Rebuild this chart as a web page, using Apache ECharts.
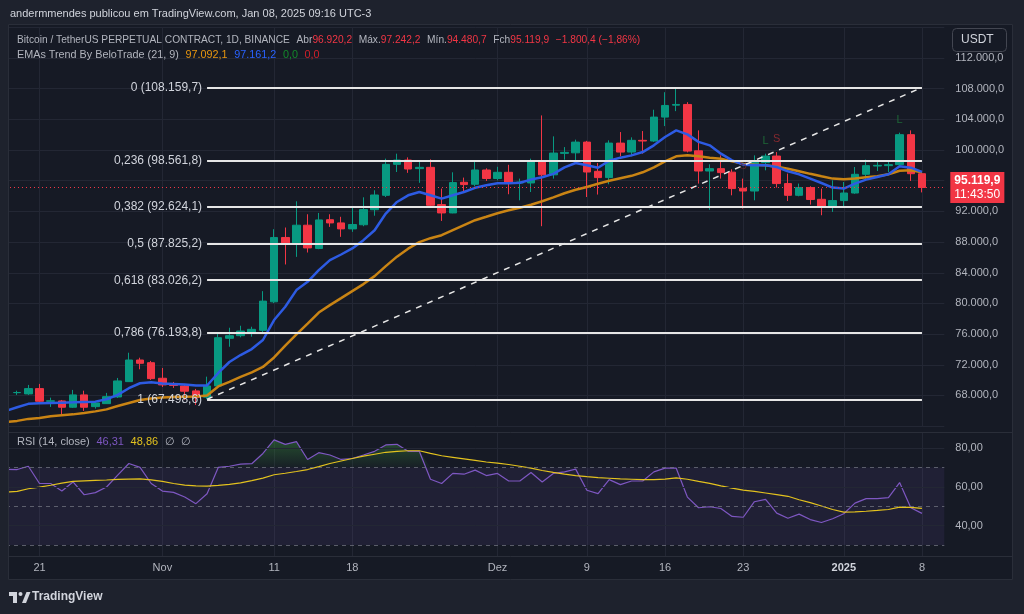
<!DOCTYPE html>
<html lang="pt">
<head>
<meta charset="UTF-8">
<title>BTCUSDT.P 1D - Fibonacci / EMAs / RSI</title>
<script src="https://cdn.jsdelivr.net/npm/echarts@6/dist/echarts.min.js"></script>
<style>html,body{margin:0;background:#1e222d}</style>
</head>
<body>
<div id="container" style="width:1024px;height:614px"></div>
<script>
// dias: 18/out/2024 .. 10/jan/2025 (os dois ultimos ficam vazios, espaco a direita)
var dates = [];
for (var d = new Date(Date.UTC(2024, 9, 18)); dates.length < 85; d.setUTCDate(d.getUTCDate() + 1)) {
    dates.push(d.toISOString().slice(0, 10));
}

// [abertura, fechamento, minima, maxima]
var candles = [
    '-',
    [68360, 68380, 68070, 68620], [68200, 68890, 68070, 69370], [68890, 67240, 66890, 69500],
    [67240, 67300, 66500, 67710], [67280, 66460, 65330, 67410], [66460, 68070, 66370, 68720],
    [68070, 66460, 65980, 68620], [66540, 67020, 66280, 67280], [66930, 67840, 66890, 68330],
    [67800, 69890, 67670, 70280], [69800, 72620, 69760, 73570], [72620, 72190, 71410, 72920],
    [72270, 70190, 70020, 72500],
    // nov
    [70240, 69370, 69100, 71580], [69370, 69300, 68980, 69760], [69240, 68550, 67410, 69500],
    [68590, 67740, 66760, 68850], [67770, 69240, 67498, 70450], [69240, 75530, 69100, 76180],
    [75450, 75790, 74350, 76830], [75790, 76400, 75580, 77090], [76270, 76620, 75660, 76960],
    [76490, 80300, 76270, 81600], [80210, 88600, 80040, 89680], [88600, 87820, 85080, 89900],
    [87820, 90200, 86070, 93320], [90200, 87240, 86640, 91630], [87170, 90890, 87070, 91800],
    [90920, 90500, 89980, 91630], [90500, 89720, 88680, 91300], [89720, 90290, 89330, 92540],
    [90260, 92240, 90070, 93840], [92220, 94140, 91440, 94760], [94100, 98140, 93880, 98880],
    [98140, 98700, 97140, 99530], [98700, 97530, 97030, 99050], [97580, 97750, 95730, 98570],
    [97750, 92800, 92580, 98790], [92890, 91800, 90760, 94980], [91800, 95760, 91760, 97100],
    [95800, 95500, 94630, 96410], [95540, 97400, 95280, 98660], [97400, 96290, 95970, 97620],
    // dez
    [96290, 97100, 96060, 97820], [97100, 95710, 94240, 98080], [95710, 95840, 93450, 96280],
    [95710, 98530, 94530, 98880], [98530, 96770, 90070, 104520], [96770, 99610, 96280, 101790],
    [99570, 99700, 98750, 100390], [99640, 101040, 98530, 101360], [101040, 97140, 93880, 101200],
    [97230, 96410, 94200, 98310], [96410, 100910, 95540, 101270], [100910, 99740, 99180, 102350],
    [99740, 101270, 99180, 101660], [101270, 101180, 99530, 102480], [101180, 104300, 101070, 105260],
    [104300, 105820, 103130, 107550], [105860, 105950, 105080, 108160], [105950, 99870, 99700, 106250],
    [99900, 97270, 95630, 102570], [97270, 97580, 92220, 98140], [97580, 97060, 96280, 99310],
    [97120, 94980, 94100, 97490], [95020, 94660, 92370, 96280], [94660, 98440, 93450, 99310],
    [98360, 99220, 97360, 99530], [99220, 95630, 95110, 99740], [95630, 94100, 93360, 96930],
    [94100, 95110, 93970, 95630], [95110, 93550, 92890, 95280], [93580, 92580, 91500, 94980],
    [92580, 93410, 91930, 96060],
    // jan
    [93410, 94400, 92670, 95840], [94400, 96840, 94300, 97790], [96840, 97970, 96060, 98750],
    [97920, 98010, 97270, 98570], [97970, 98100, 97140, 98660], [98100, 102010, 98010, 102270],
    [102010, 96920.3, 95970, 102570], [96920.2, 95119.9, 94480.7, 97242.2],
    '-', '-'
];

// EMAs Trend By BeloTrade: EMA 9 (azul) e EMA 21 (laranja)
var ema9 = [65980, 66460, 66900, 66980, 67020, 67060, 67100, 67150, 67190, 67500, 68070, 68940, 69590, 69720,
    69560, 69500, 69430, 69300, 69300, 70930, 72360, 73270, 74050, 75230,
    77830, 79560, 81740, 82820, 84340, 85640, 86380, 87170, 88250, 89550,
    91720, 93230, 94100, 94530, 94100, 93670, 94100, 94530, 95080, 95410,
    95670, 95670, 95730, 96150, 96450, 96900, 97750, 98310, 98010, 97690,
    98600, 99010, 99310, 99740, 100620, 101700, 102570, 102050, 101070, 100620,
    99530, 98660, 98100, 98010, 98010, 97790, 97230, 96840, 96280, 95710, 95110,
    94980, 95630, 96150, 96490, 96840, 97880, 97710, 97161.2, '-', '-'];
var ema21 = [64550, 64680, 64940, 65070, 65270, 65400, 65530, 65720, 65920, 66180, 66630, 67020, 67410, 67610,
    67740, 67800, 67840, 67870, 68000, 69170, 69760, 70410, 71000, 71710,
    72950, 74500, 75950, 77370, 78810, 79780, 80690, 81610, 82520, 83560,
    84860, 86100, 87140, 87990, 88510, 88900, 89550, 90200, 90850, 91300,
    91760, 92150, 92480, 92870, 93320, 93840, 94370, 94820, 95190, 95600,
    95990, 96320, 96640, 97100, 97750, 98530, 99180, 99310, 99180, 98990,
    98860, 98530, 98200, 98080, 98010, 97820, 97560, 97230, 96900, 96580, 96280,
    96190, 96280, 96450, 96580, 96840, 97300, 97360, 97092.1, '-', '-'];

// RSI (14, close) e sua media
var rsi = [69.0, 68.9, 70.6, 61.7, 61.7, 57.8, 62.5, 55.9, 57.0, 59.9, 66.0, 72.0, 70.0, 61.7,
    57.8, 57.1, 54.7, 51.3, 56.4, 70.0, 70.6, 71.7, 71.9, 77.2,
    84.2, 81.9, 83.3, 74.1, 77.6, 76.4, 74.1, 74.6, 76.4, 78.3,
    81.6, 81.9, 78.3, 78.3, 63.9, 61.7, 66.9, 66.5, 68.6, 65.8,
    66.9, 63.0, 63.0, 67.4, 62.5, 66.9, 67.7, 69.1, 58.2, 56.5,
    63.7, 61.1, 63.0, 63.0, 67.7, 69.6, 69.6, 54.7, 49.2, 49.7,
    48.8, 44.7, 44.3, 52.3, 53.5, 46.4, 43.8, 45.9, 43.1, 41.6, 43.5,
    46.1, 51.6, 53.9, 53.9, 54.4, 62.2, 49.2, 46.31, '-', '-'];
var rsiMa = [57.2, 57.6, 59.0, 59.8, 60.8, 61.9, 62.8, 63.1, 63.3, 63.5, 63.8, 64.0, 64.1, 63.6,
    62.8, 61.7, 60.9, 60.5, 60.3, 60.7, 61.2, 62.0, 63.2, 64.5,
    66.2, 67.0, 67.9, 68.9, 70.4, 72.0, 73.3, 74.6, 75.8, 76.8,
    77.8, 78.3, 78.6, 78.6, 77.2, 76.0, 75.2, 74.4, 73.6, 72.8,
    72.2, 71.5, 70.6, 69.6, 68.4, 67.4, 66.5, 65.8, 65.2, 64.7,
    64.4, 64.1, 63.9, 63.7, 63.7, 64.0, 64.6, 63.9, 62.8, 61.8,
    60.5, 59.3, 58.3, 57.6, 56.8, 56.0, 55.1, 53.3, 51.8, 50.1, 48.3,
    46.9, 47.1, 47.4, 47.8, 48.3, 49.5, 49.4, 48.86, '-', '-'];

// retracao de Fibonacci
var fibLevels = ['0', '0,236', '0,382', '0,5', '0,618', '0,786', '1'];
var fibPrices = [108159.7, 98561.8, 92624.1, 87825.2, 83026.2, 76193.8, 67498.6];
var fibFrom = '2024-11-05', fibTo = '2025-01-08';

// sinais L / S do indicador
var signalDates = ['2024-12-23', '2024-12-25', '2024-12-26', '2025-01-06'];
var signalPrices = [97900, 101130, 101400, 103870];
var signalText = ['S', 'L', 'S', 'L'];

// eixo do tempo
var tickDates = ['2024-10-21', '2024-11-01', '2024-11-11', '2024-11-18', '2024-12-01',
    '2024-12-09', '2024-12-16', '2024-12-23', '2025-01-01', '2025-01-08'];
var tickText = ['21', 'Nov', '11', '18', 'Dez', '9', '16', '23', '2025', '8'];

var FONT = "'Liberation Sans', Arial, sans-serif";
var GRID = '#232734';

function fmt(v, dec) {
    var s = Math.abs(v).toFixed(dec).split('.');
    s[0] = s[0].replace(/\B(?=(\d{3})+(?!\d))/g, '.');
    return (v < 0 ? '−' : '') + s[0] + (dec ? ',' + s[1] : '');
}
function isTick(i) { return tickDates.indexOf(dates[i]) >= 0; }

var last = candles[82], prev = candles[81];
var change = last[1] - prev[1];
var lastPrice = last[1];

var myChart = echarts.init(document.getElementById('container'));

var fibLines = fibPrices.map(function (p, i) {
    return [
        { coord: [fibFrom, p], label: { formatter: fibLevels[i] + ' (' + fmt(p, 1) + ')' } },
        { coord: [fibTo, p] }
    ];
});
// linha tracejada da ancora 1 ate a ancora 0
fibLines.push([
    { coord: [fibFrom, fibPrices[6]], lineStyle: { type: [6, 6], width: 1.5 }, label: { show: false } },
    { coord: [fibTo, fibPrices[0]] }
]);
// preco atual
fibLines.push({
    yAxis: lastPrice,
    lineStyle: { color: '#f23645', type: [1, 3], width: 1 },
    label: {
        position: 'end', distance: 6, padding: [2, 4, 1, 4],
        backgroundColor: '#f23645', color: '#fff',
        formatter: '{p|' + fmt(lastPrice, 1) + '}\n{t|11:43:50}',
        rich: {
            p: { color: '#fff', fontWeight: 'bold', fontSize: 12, lineHeight: 14, fontFamily: FONT },
            t: { color: '#fff', fontSize: 12, lineHeight: 14, fontFamily: FONT }
        }
    }
});

var rsiOver = rsi.map(function (v) { return v === '-' ? '-' : Math.max(v, 70); });

var axisLbl = { color: '#b2b5be', fontSize: 11, fontFamily: FONT };

myChart.setOption({
    backgroundColor: '#161a25',
    animation: false,
    textStyle: { fontFamily: FONT },
    grid: [
        { left: 6, right: 79.7, top: 27.4, height: 398.7 },
        { left: 6, right: 79.7, top: 432.5, height: 124.1 }
    ],
    xAxis: [
        {
            type: 'category', gridIndex: 0, data: dates, boundaryGap: false,
            axisLine: { show: false }, axisTick: { show: false }, axisLabel: { show: false },
            splitLine: { show: true, interval: isTick, lineStyle: { color: GRID } }
        },
        {
            type: 'category', gridIndex: 1, data: dates, boundaryGap: false,
            axisLine: { show: false }, axisTick: { show: false },
            axisLabel: Object.assign({}, axisLbl, {
                interval: isTick, margin: 6,
                formatter: function (v) {
                    var t = tickText[tickDates.indexOf(v)];
                    return t === '2025' ? '{b|' + t + '}' : t;
                },
                rich: { b: { fontWeight: 'bold', color: '#d1d4dc', fontSize: 11, fontFamily: FONT } }
            }),
            splitLine: { show: true, interval: isTick, lineStyle: { color: GRID } }
        }
    ],
    yAxis: [
        {
            type: 'value', gridIndex: 0, position: 'right', min: 64000, max: 116000, interval: 4000,
            axisLine: { show: false }, axisTick: { show: false },
            splitLine: { lineStyle: { color: GRID } },
            axisLabel: Object.assign({}, axisLbl, {
                margin: 11,
                formatter: function (v) { return (v === 64000 || v === 116000) ? '' : fmt(v, 1); }
            })
        },
        {
            type: 'value', gridIndex: 1, position: 'right', min: 24, max: 88, interval: 2,
            axisLine: { show: false }, axisTick: { show: false }, splitLine: { show: false },
            axisLabel: Object.assign({}, axisLbl, {
                margin: 11,
                formatter: function (v) { return (v === 40 || v === 60 || v === 80) ? fmt(v, 2) : ''; }
            })
        }
    ],
    series: [
        {
            name: 'BTCUSDT.P', type: 'candlestick', xAxisIndex: 0, yAxisIndex: 0,
            data: candles, barWidth: 8,
            itemStyle: { color: '#089981', color0: '#f23645', borderColor: '#089981', borderColor0: '#f23645', borderWidth: 1 },
            markLine: {
                silent: true, symbol: ['none', 'none'], animation: false,
                lineStyle: { color: '#e6e6e6', width: 2, type: 'solid' },
                label: { position: 'start', distance: 5, padding: [0, 0, 22, 0], color: '#d1d4dc', fontSize: 12, fontFamily: FONT },
                data: fibLines
            }
        },
        {
            name: 'EMA 21', type: 'line', xAxisIndex: 0, yAxisIndex: 0, data: ema21,
            showSymbol: false, lineStyle: { color: '#c98414', width: 2.5 }, z: 3
        },
        {
            name: 'EMA 9', type: 'line', xAxisIndex: 0, yAxisIndex: 0, data: ema9,
            showSymbol: false, lineStyle: { color: '#2d5be3', width: 2.5 }, z: 3
        },
        {
            name: 'sinais', type: 'scatter', xAxisIndex: 0, yAxisIndex: 0, symbolSize: 1,
            itemStyle: { color: 'transparent' }, z: 4,
            data: signalDates.map(function (dt, i) {
                var lng = signalText[i] === 'L';
                return {
                    value: [dt, signalPrices[i]],
                    label: {
                        show: true, position: 'inside', formatter: signalText[i], fontSize: 11, fontFamily: FONT,
                        color: lng ? '#1f7a3a' : (i === 0 ? '#6e2429' : '#a12c31')
                    }
                };
            })
        },
        {
            name: 'sobrecompra', type: 'line', xAxisIndex: 1, yAxisIndex: 1, data: rsiOver,
            showSymbol: false, lineStyle: { width: 0 },
            areaStyle: {
                origin: 70,
                color: new echarts.graphic.LinearGradient(0, 0, 0, 1, [
                    { offset: 0, color: 'rgba(56,142,60,0.65)' },
                    { offset: 1, color: 'rgba(56,142,60,0.06)' }
                ])
            }
        },
        {
            name: 'RSI', type: 'line', xAxisIndex: 1, yAxisIndex: 1, data: rsi,
            showSymbol: false, lineStyle: { color: '#7e57c2', width: 1.2 }, z: 3,
            markArea: {
                silent: true, itemStyle: { color: 'rgba(126,87,194,0.1)' },
                data: [[{ yAxis: 30 }, { yAxis: 70 }]]
            },
            markLine: {
                silent: true, symbol: ['none', 'none'], label: { show: false }, animation: false,
                data: [
                    { yAxis: 80, lineStyle: { color: GRID, type: 'solid', width: 1 } },
                    { yAxis: 60, lineStyle: { color: GRID, type: 'solid', width: 1 } },
                    { yAxis: 40, lineStyle: { color: GRID, type: 'solid', width: 1 } },
                    { yAxis: 70, lineStyle: { color: '#787b86', type: [4, 4], width: 1, opacity: 0.7 } },
                    { yAxis: 50, lineStyle: { color: '#787b86', type: [4, 4], width: 1, opacity: 0.7 } },
                    { yAxis: 30, lineStyle: { color: '#787b86', type: [4, 4], width: 1, opacity: 0.7 } }
                ]
            }
        },
        {
            name: 'RSI MA', type: 'line', xAxisIndex: 1, yAxisIndex: 1, data: rsiMa,
            showSymbol: false, lineStyle: { color: '#e3c21e', width: 1.2 }, z: 3
        }
    ],
    graphic: [
        // moldura
        { type: 'rect', silent: true, z: 90, shape: { x: 0, y: 0, width: 1024, height: 24 }, style: { fill: '#1e222d' } },
        { type: 'rect', silent: true, z: 90, shape: { x: 0, y: 580, width: 1024, height: 34 }, style: { fill: '#1e222d' } },
        { type: 'rect', silent: true, z: 90, shape: { x: 0, y: 0, width: 8, height: 614 }, style: { fill: '#1e222d' } },
        { type: 'rect', silent: true, z: 90, shape: { x: 1013, y: 0, width: 11, height: 614 }, style: { fill: '#1e222d' } },
        { type: 'rect', silent: true, z: 91, shape: { x: 8.5, y: 24.5, width: 1004, height: 555 }, style: { fill: 'none', stroke: '#2a2e39', lineWidth: 1 } },
        { type: 'line', silent: true, z: 91, shape: { x1: 8, y1: 432.5, x2: 1013, y2: 432.5 }, style: { stroke: '#2a2e39', lineWidth: 1 } },
        { type: 'line', silent: true, z: 91, shape: { x1: 8, y1: 556.5, x2: 1013, y2: 556.5 }, style: { stroke: '#2a2e39', lineWidth: 1 } },
        // textos
        {
            type: 'text', z: 100, left: 10, top: 8,
            style: { text: 'andermmendes publicou em TradingView.com, Jan 08, 2025 09:16 UTC-3', fill: '#d1d4dc', font: '11px ' + FONT }
        },
        {
            type: 'text', z: 100, left: 17, top: 34,
            style: {
                text: '{g|Bitcoin / TetherUS PERPETUAL CONTRACT, 1D, BINANCE}  {g|Abr}{r|' + fmt(last[0], 1) +
                    '}  {g|Máx.}{r|' + fmt(last[3], 1) + '}  {g|Mín.}{r|' + fmt(last[2], 1) +
                    '}  {g|Fch}{r|' + fmt(last[1], 1) + '}  {r|' + fmt(change, 1) + ' (' + fmt(change / prev[1] * 100, 2) + '%)}',
                rich: {
                    g: { fill: '#b2b5be', font: '10.2px ' + FONT },
                    r: { fill: '#f23645', font: '10.2px ' + FONT }
                }
            }
        },
        {
            type: 'text', z: 100, left: 17, top: 49,
            style: {
                text: '{g|EMAs Trend By BeloTrade (21, 9)}  {o|' + fmt(ema21[82], 1) + '}  {b|' + fmt(ema9[82], 1) +
                    '}  {gr|0,0}  {rd|0,0}',
                rich: {
                    g: { fill: '#b2b5be', font: '10.8px ' + FONT },
                    o: { fill: '#e8960f', font: '10.8px ' + FONT },
                    b: { fill: '#2962ff', font: '10.8px ' + FONT },
                    gr: { fill: '#138a2a', font: '10.8px ' + FONT },
                    rd: { fill: '#d0202a', font: '10.8px ' + FONT }
                }
            }
        },
        {
            type: 'text', z: 100, left: 17, top: 436,
            style: {
                text: '{g|RSI (14, close)}  {p|' + fmt(rsi[82], 2) + '}  {y|' + fmt(rsiMa[82], 2) + '}  {g|∅}  {g|∅}',
                rich: {
                    g: { fill: '#b2b5be', font: '11px ' + FONT },
                    p: { fill: '#7e57c2', font: '11px ' + FONT },
                    y: { fill: '#e3c21e', font: '11px ' + FONT }
                }
            }
        },
        // caixa da moeda
        { type: 'rect', z: 100, shape: { x: 952.5, y: 28.5, width: 54, height: 23, r: 4 }, style: { fill: '#161a25', stroke: '#434651', lineWidth: 1 } },
        { type: 'text', z: 101, left: 961, top: 34, style: { text: 'USDT', fill: '#d1d4dc', font: '12px ' + FONT } },
        // logo
        { type: 'rect', z: 100, shape: { x: 9, y: 592, width: 8, height: 4 }, style: { fill: '#d1d4dc' } },
        { type: 'rect', z: 100, shape: { x: 13, y: 592, width: 4, height: 11 }, style: { fill: '#d1d4dc' } },
        { type: 'circle', z: 100, shape: { cx: 20.5, cy: 594, r: 2 }, style: { fill: '#d1d4dc' } },
        { type: 'polygon', z: 100, shape: { points: [[22, 603], [26.5, 592], [30.5, 592], [26, 603]] }, style: { fill: '#d1d4dc' } },
        { type: 'text', z: 100, left: 32, top: 591, style: { text: 'TradingView', fill: '#d1d4dc', font: 'bold 12px ' + FONT } }
    ]
});
</script>
</body>
</html>
